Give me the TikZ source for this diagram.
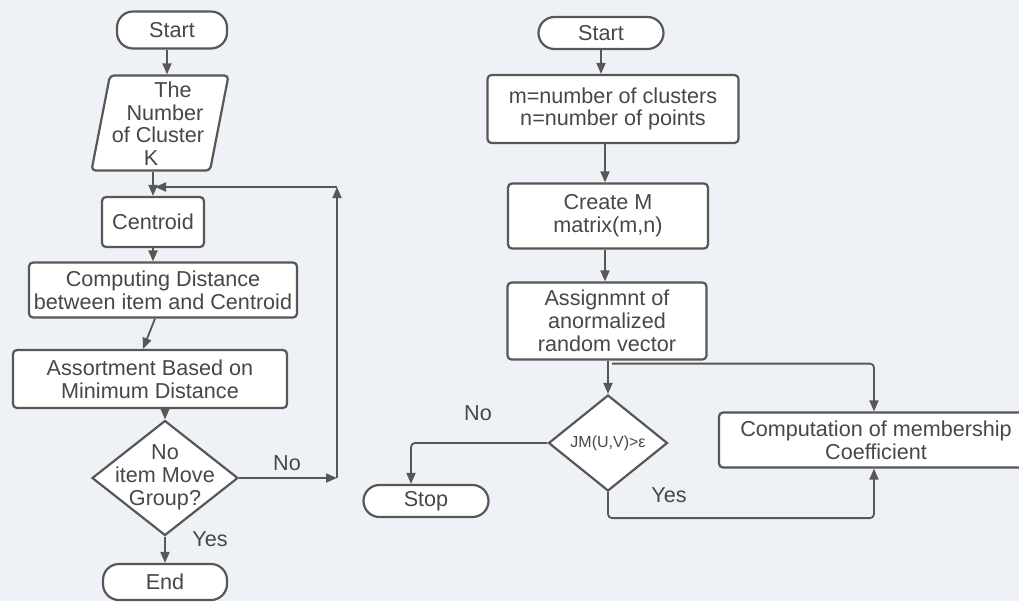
\documentclass[tikz,border=0pt]{standalone}
\usepackage{fontspec}
\setmainfont{Liberation Sans}
\usetikzlibrary{shapes.geometric,arrows.meta}
\definecolor{bg}{HTML}{EEF2F6}
\definecolor{ink}{HTML}{474747}
\definecolor{edge}{HTML}{575757}
\newcommand{\dtext}[1]{\makebox[0pt]{\begin{tabular}{@{}c@{}}#1\end{tabular}}}
\begin{document}
\begin{tikzpicture}[x=0.5pt,y=-0.5pt,
    font=\fontsize{10.8}{11.4}\selectfont, text=ink,
    box/.style={rectangle, draw=edge, line width=1.1pt, fill=white, rounded corners=2pt, align=center, inner sep=1pt},
    pill/.style={box, rounded corners=8pt},
    decision/.style={diamond, draw=edge, line width=1.1pt, fill=white, inner sep=0pt, text height=5.4pt, text depth=0pt},
    data/.style={trapezium, trapezium left angle=79, trapezium right angle=101, trapezium stretches body=true,
        draw=edge, line width=1.1pt, fill=white, rounded corners=2pt, inner sep=0pt, text height=28.45pt, text depth=19.05pt},
    arr/.style={-{Triangle[length=5.5pt,width=4.5pt]}, draw=edge, line width=0.9pt, rounded corners=2pt}]
    \useasboundingbox (0,0) rectangle (1019,601);
    \clip (0,0) rectangle (1019,601);
    \fill[bg] (0,0) rectangle (1019,601);

    % k-means
    \node (startL) [pill, minimum width=55pt, minimum height=18.5pt] at (172,30) {Start};
    \node (numK) [data, minimum width=68.5pt, minimum height=47.5pt] at (160,123)
        {\dtext{\hspace*{13pt}The\\\hspace*{5pt}Number\\of Cluster\hspace*{2pt}\\K\hspace*{9pt}}};
    \node (centroid) [box, minimum width=51pt, minimum height=25pt] at (153,222) {Centroid};
    \node (compdist) [box, minimum width=134pt, minimum height=27.5pt] at (163,290) {Computing Distance\\between item and Centroid};
    \node (assort) [box, minimum width=137pt, minimum height=29pt] at (150,379) {Assortment Based on\\Minimum Distance};
    \node (moved) [decision, minimum width=73pt, minimum height=57.5pt] at (165,478) {\dtext{No\\item Move\\Group?}};
    \node (endL) [pill, minimum width=62pt, minimum height=18pt] at (165,582) {End};
    \coordinate (loopR) at (337,478);
    \coordinate (loopT) at (337,187);
    \node (noL) at (287,463) {No};
    \node (yesL) at (210,539) {Yes};

    \draw[arr] ([xshift=-2.5pt]startL.south) -- ([xshift=-2.5pt]startL.south |- numK.north);
    \draw[arr] (numK.south -| centroid.north) -- (centroid.north);
    \draw[arr] (centroid.south) -- (centroid.south |- compdist.north);
    \draw[arr] ([xshift=-4pt]compdist.south) -- ([xshift=-3.5pt]assort.north);
    \draw[arr] (assort.south -| moved.north) -- (moved.north);
    \draw[arr] (moved.south) -- (endL.north);
    \draw[arr] (moved.east) -- (loopR);
    \draw[arr] (loopR) -- (loopT);
    \draw[arr] (loopT) -- ([xshift=1pt]loopT -| centroid.north);

    % fuzzy c-means
    \node (startR) [pill, minimum width=62.5pt, minimum height=16pt] at (601,33) {Start};
    \node (params) [box, minimum width=125.5pt, minimum height=34pt] at (613,109) {m=number of clusters\\n=number of points};
    \node (createM) [box, minimum width=100pt, minimum height=32.5pt] at (608,216) {Create M\\matrix(m,n)};
    \node (assign) [box, minimum width=99.5pt, minimum height=38.5pt] at (607,321) {Assignmnt of\\anormalized\\random vector};
    \node (test) [decision, minimum width=59.5pt, minimum height=48pt] at (608,443) {\dtext{\fontsize{8}{9}\selectfont JM(U,V)>ε}};
    \node (stop) [pill, minimum width=62.5pt, minimum height=16pt] at (426,501) {Stop};
    \node (member) [box, minimum width=157pt, minimum height=27.5pt] at (876,440) {Computation of membership\\Coefficient};
    \node (noR) at (478,413) {No};
    \node (yesR) at (669,495) {Yes};

    \draw[arr] (startR.south) -- (startR.south |- params.north);
    \draw[arr] ([xshift=-4pt]params.south) -- ([xshift=-4pt]params.south |- createM.north);
    \draw[arr] ([xshift=-1.5pt]createM.south) -- ([xshift=-1.5pt]createM.south |- assign.north);
    \draw[arr] (assign.south -| test.north) -- (test.north);
    \draw[arr] ([xshift=2.5pt,yshift=-1.5pt]assign.south) -| ([xshift=-1pt]member.north);
    \draw[arr] (test.south) -- ++(0,26) -| ([xshift=-1pt]member.south);
    \draw[arr] (test.west) -| ([xshift=-7.5pt]stop.north);
\end{tikzpicture}
\end{document}
